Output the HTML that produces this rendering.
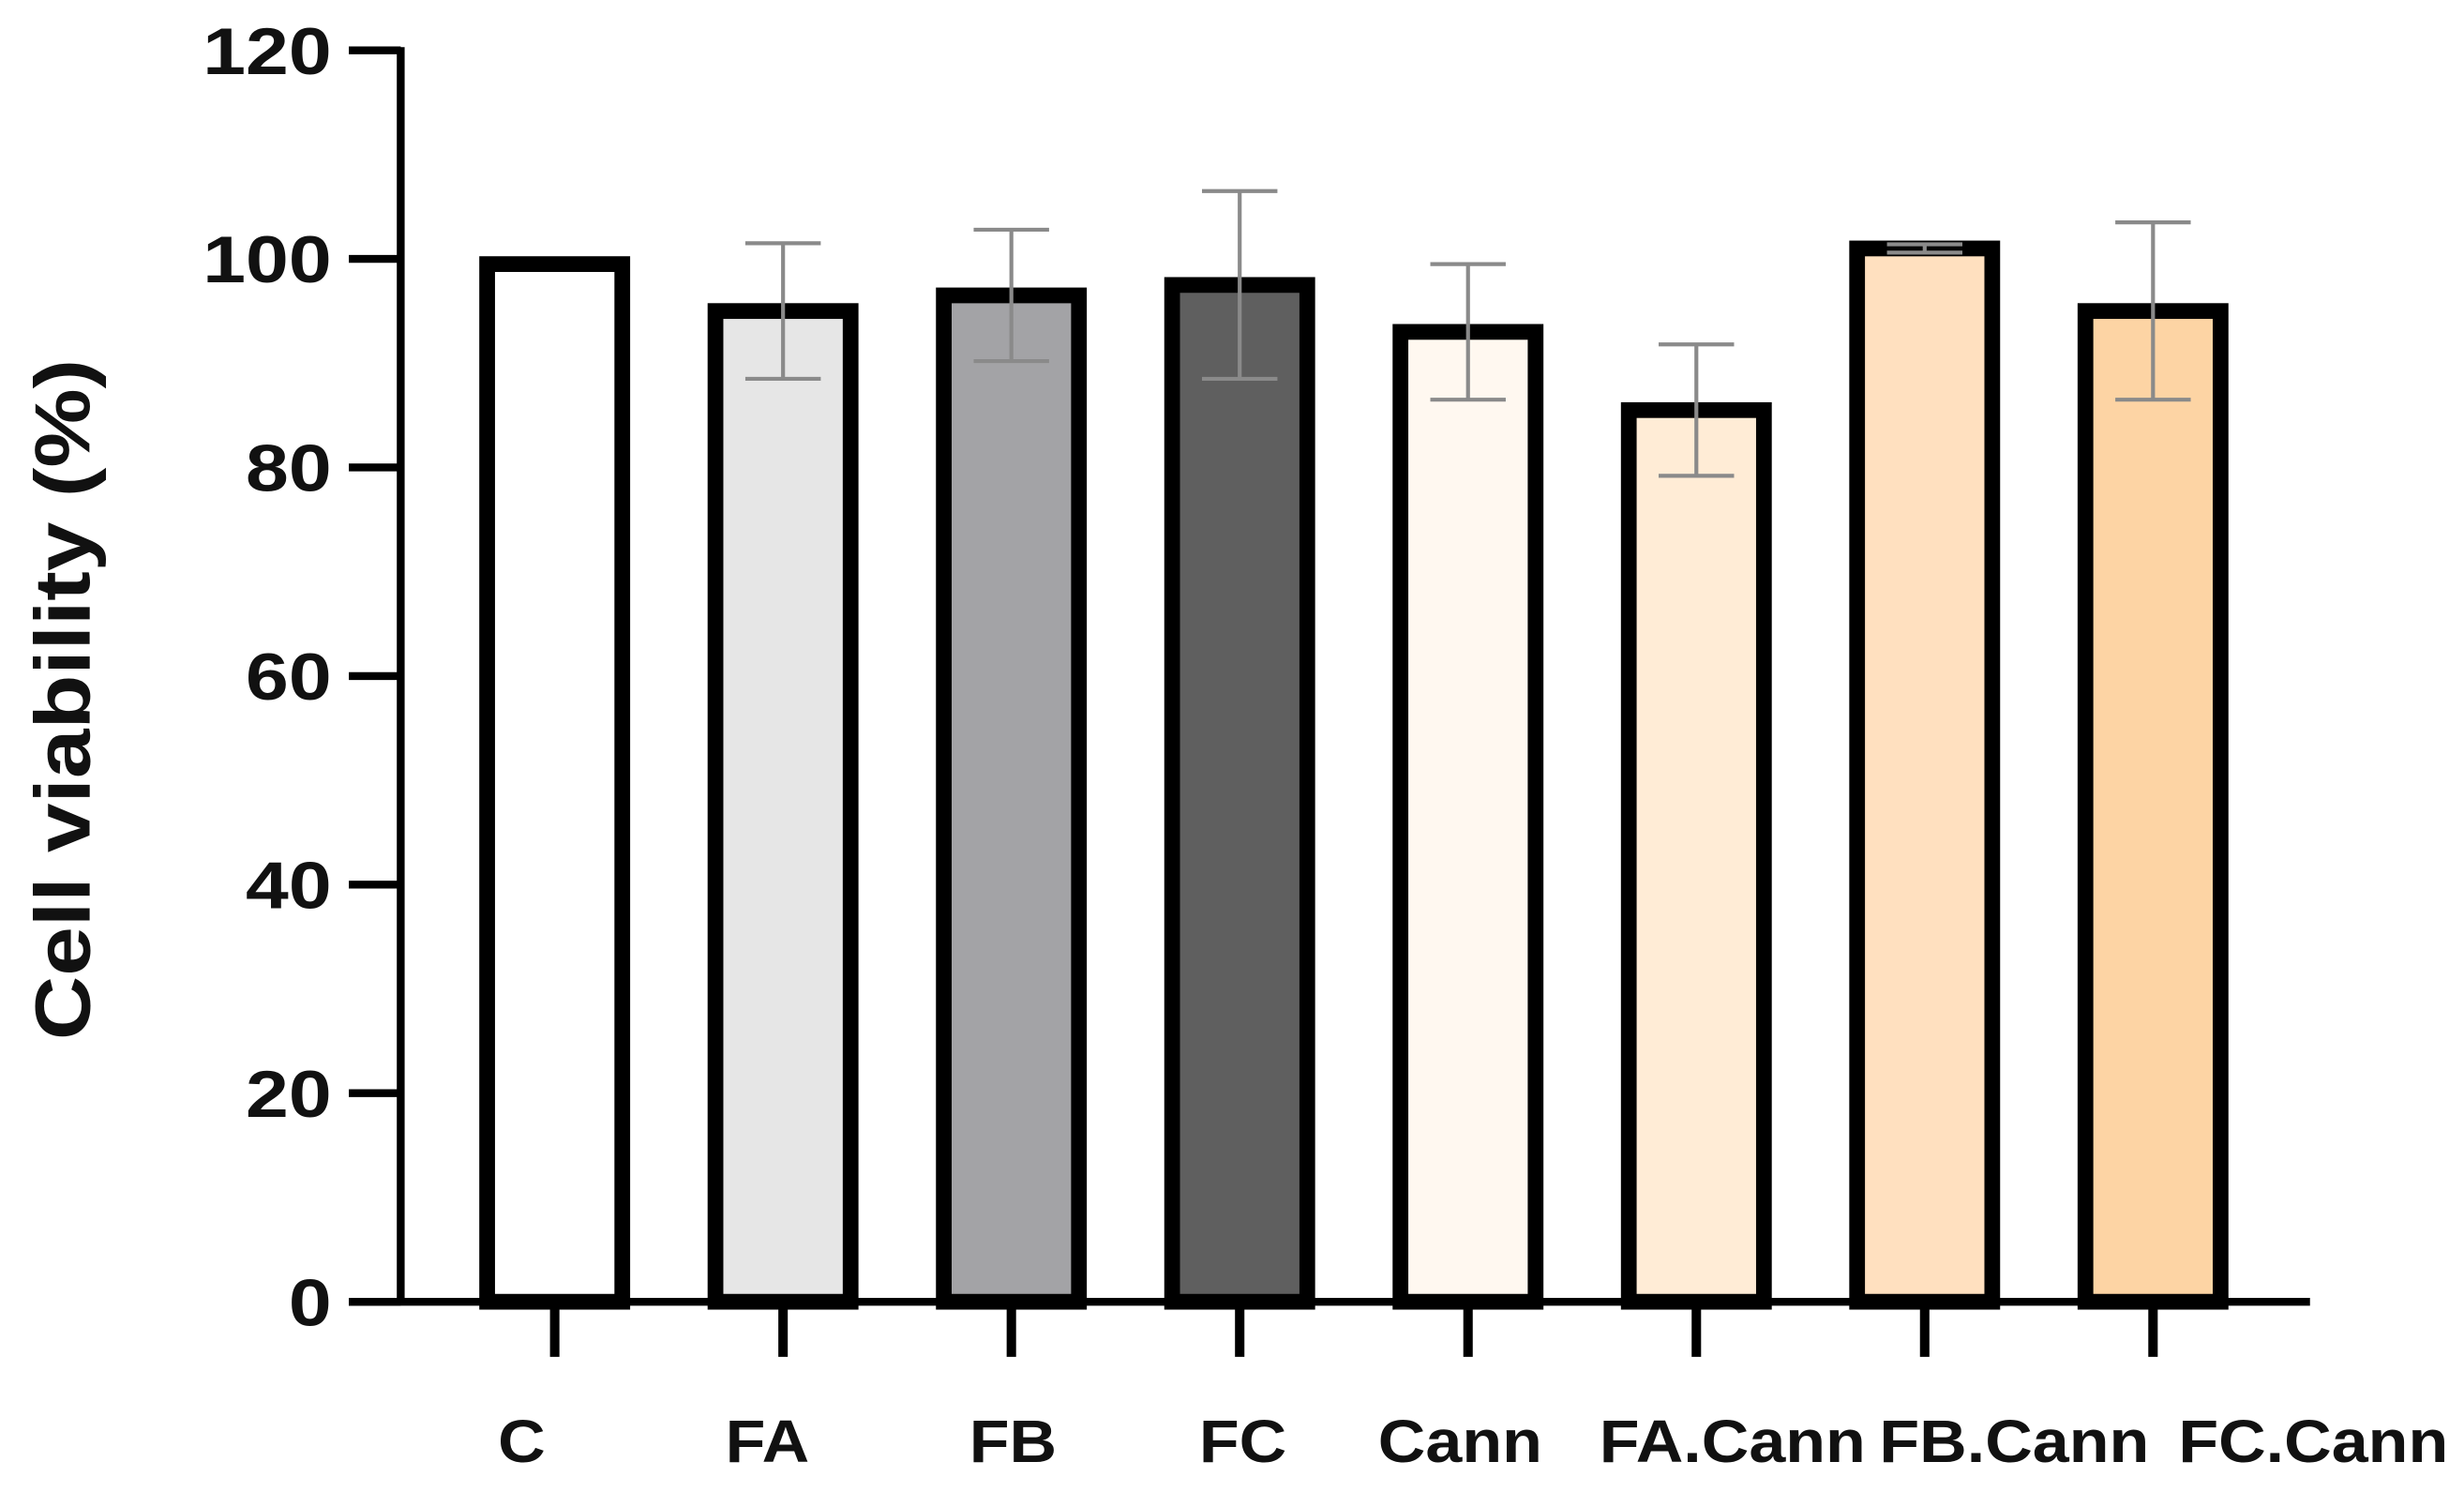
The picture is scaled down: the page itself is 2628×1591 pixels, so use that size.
<!DOCTYPE html>
<html><head><meta charset="utf-8"><style>
html,body{margin:0;padding:0;background:#fff}
svg{display:block}
text{font-family:"Liberation Sans",Arial,sans-serif;font-weight:bold;fill:#111}
</style></head><body>
<svg id="chart" width="2628" height="1591" viewBox="0 0 1568 949" preserveAspectRatio="none" xmlns="http://www.w3.org/2000/svg">
<g id="axes"></g>
<g id="bars"></g>
<text transform="translate(57,445) rotate(-90) scale(1.13,1)" text-anchor="middle" font-size="50">Cell viability (%)</text>
</svg>
<script>
const categories = ["C","FA","FB","FC","Cann","FA.Cann","FB.Cann","FC.Cann"];
const values = [99.5,95,96.5,97.5,93,85.5,101,95];
const errors = [0,6.5,6.3,9,6.5,6.3,0.4,8.5];
const fills = ["#ffffff","#e6e6e6","#a3a3a6","#5f5f5f","#fff8f0","#ffecd6","#ffe0bf","#fdd4a4"];
const yTicks = [0,20,40,60,80,100,120];

const NS="http://www.w3.org/2000/svg";
const y0=828, y120=32, axisX=255, firstX=353, step=145.3;
const labelShift=[-21,-10,1,2,-5,23,57,102];
function y(v){return y0-(v/120)*(y0-y120);}
function x(i){return firstX+i*step;}
function mk(tag,attrs,parent){const e=document.createElementNS(NS,tag);for(const k in attrs)e.setAttribute(k,attrs[k]);parent.appendChild(e);return e;}
const axes=document.getElementById('axes'), bars=document.getElementById('bars');

let l=mk('line',{x1:axisX,y1:y(120)-2,x2:axisX,y2:y0+2,stroke:'#000','stroke-width':5},axes);


yTicks.forEach(t=>{
  const tk=mk('line',{x1:222,y1:y(t),x2:axisX,y2:y(t),stroke:'#000','stroke-width':5},axes);
  
  
  const tx=mk('text',{x:0,y:0,'text-anchor':'end','font-size':42,transform:`translate(211,${y(t)+15}) scale(1.17,1)`},axes);
  tx.textContent=t;
  
  
});
l=mk('line',{x1:222,y1:y0,x2:1470,y2:y0,stroke:'#000','stroke-width':5},axes);



categories.forEach((c,i)=>{
  const cx=x(i), w=86, top=y(values[i]);
  const r=mk('rect',{x:cx-w/2,y:top,width:w,height:y0-top,fill:fills[i],stroke:'#000','stroke-width':10},bars);
  
  
  if(errors[i]>0){
    const hi=y(values[i]+errors[i]), lo=y(values[i]-errors[i]);
    const g=mk('g',{stroke:'#8a8a8a','stroke-width':2.5},bars);
    
    
    mk('line',{x1:cx,y1:hi,x2:cx,y2:lo},g);
    mk('line',{x1:cx-24,y1:hi,x2:cx+24,y2:hi},g);
    mk('line',{x1:cx-24,y1:lo,x2:cx+24,y2:lo},g);
  }
  const tk=mk('line',{x1:cx,y1:y0,x2:cx,y2:863,stroke:'#000','stroke-width':6},axes);
  
  
  const tx=mk('text',{x:0,y:0,'text-anchor':'middle','font-size':38,transform:`translate(${cx+labelShift[i]},930) scale(1.1,1)`},axes);
  tx.textContent=c;
  
  
});
</script>
</body></html>
